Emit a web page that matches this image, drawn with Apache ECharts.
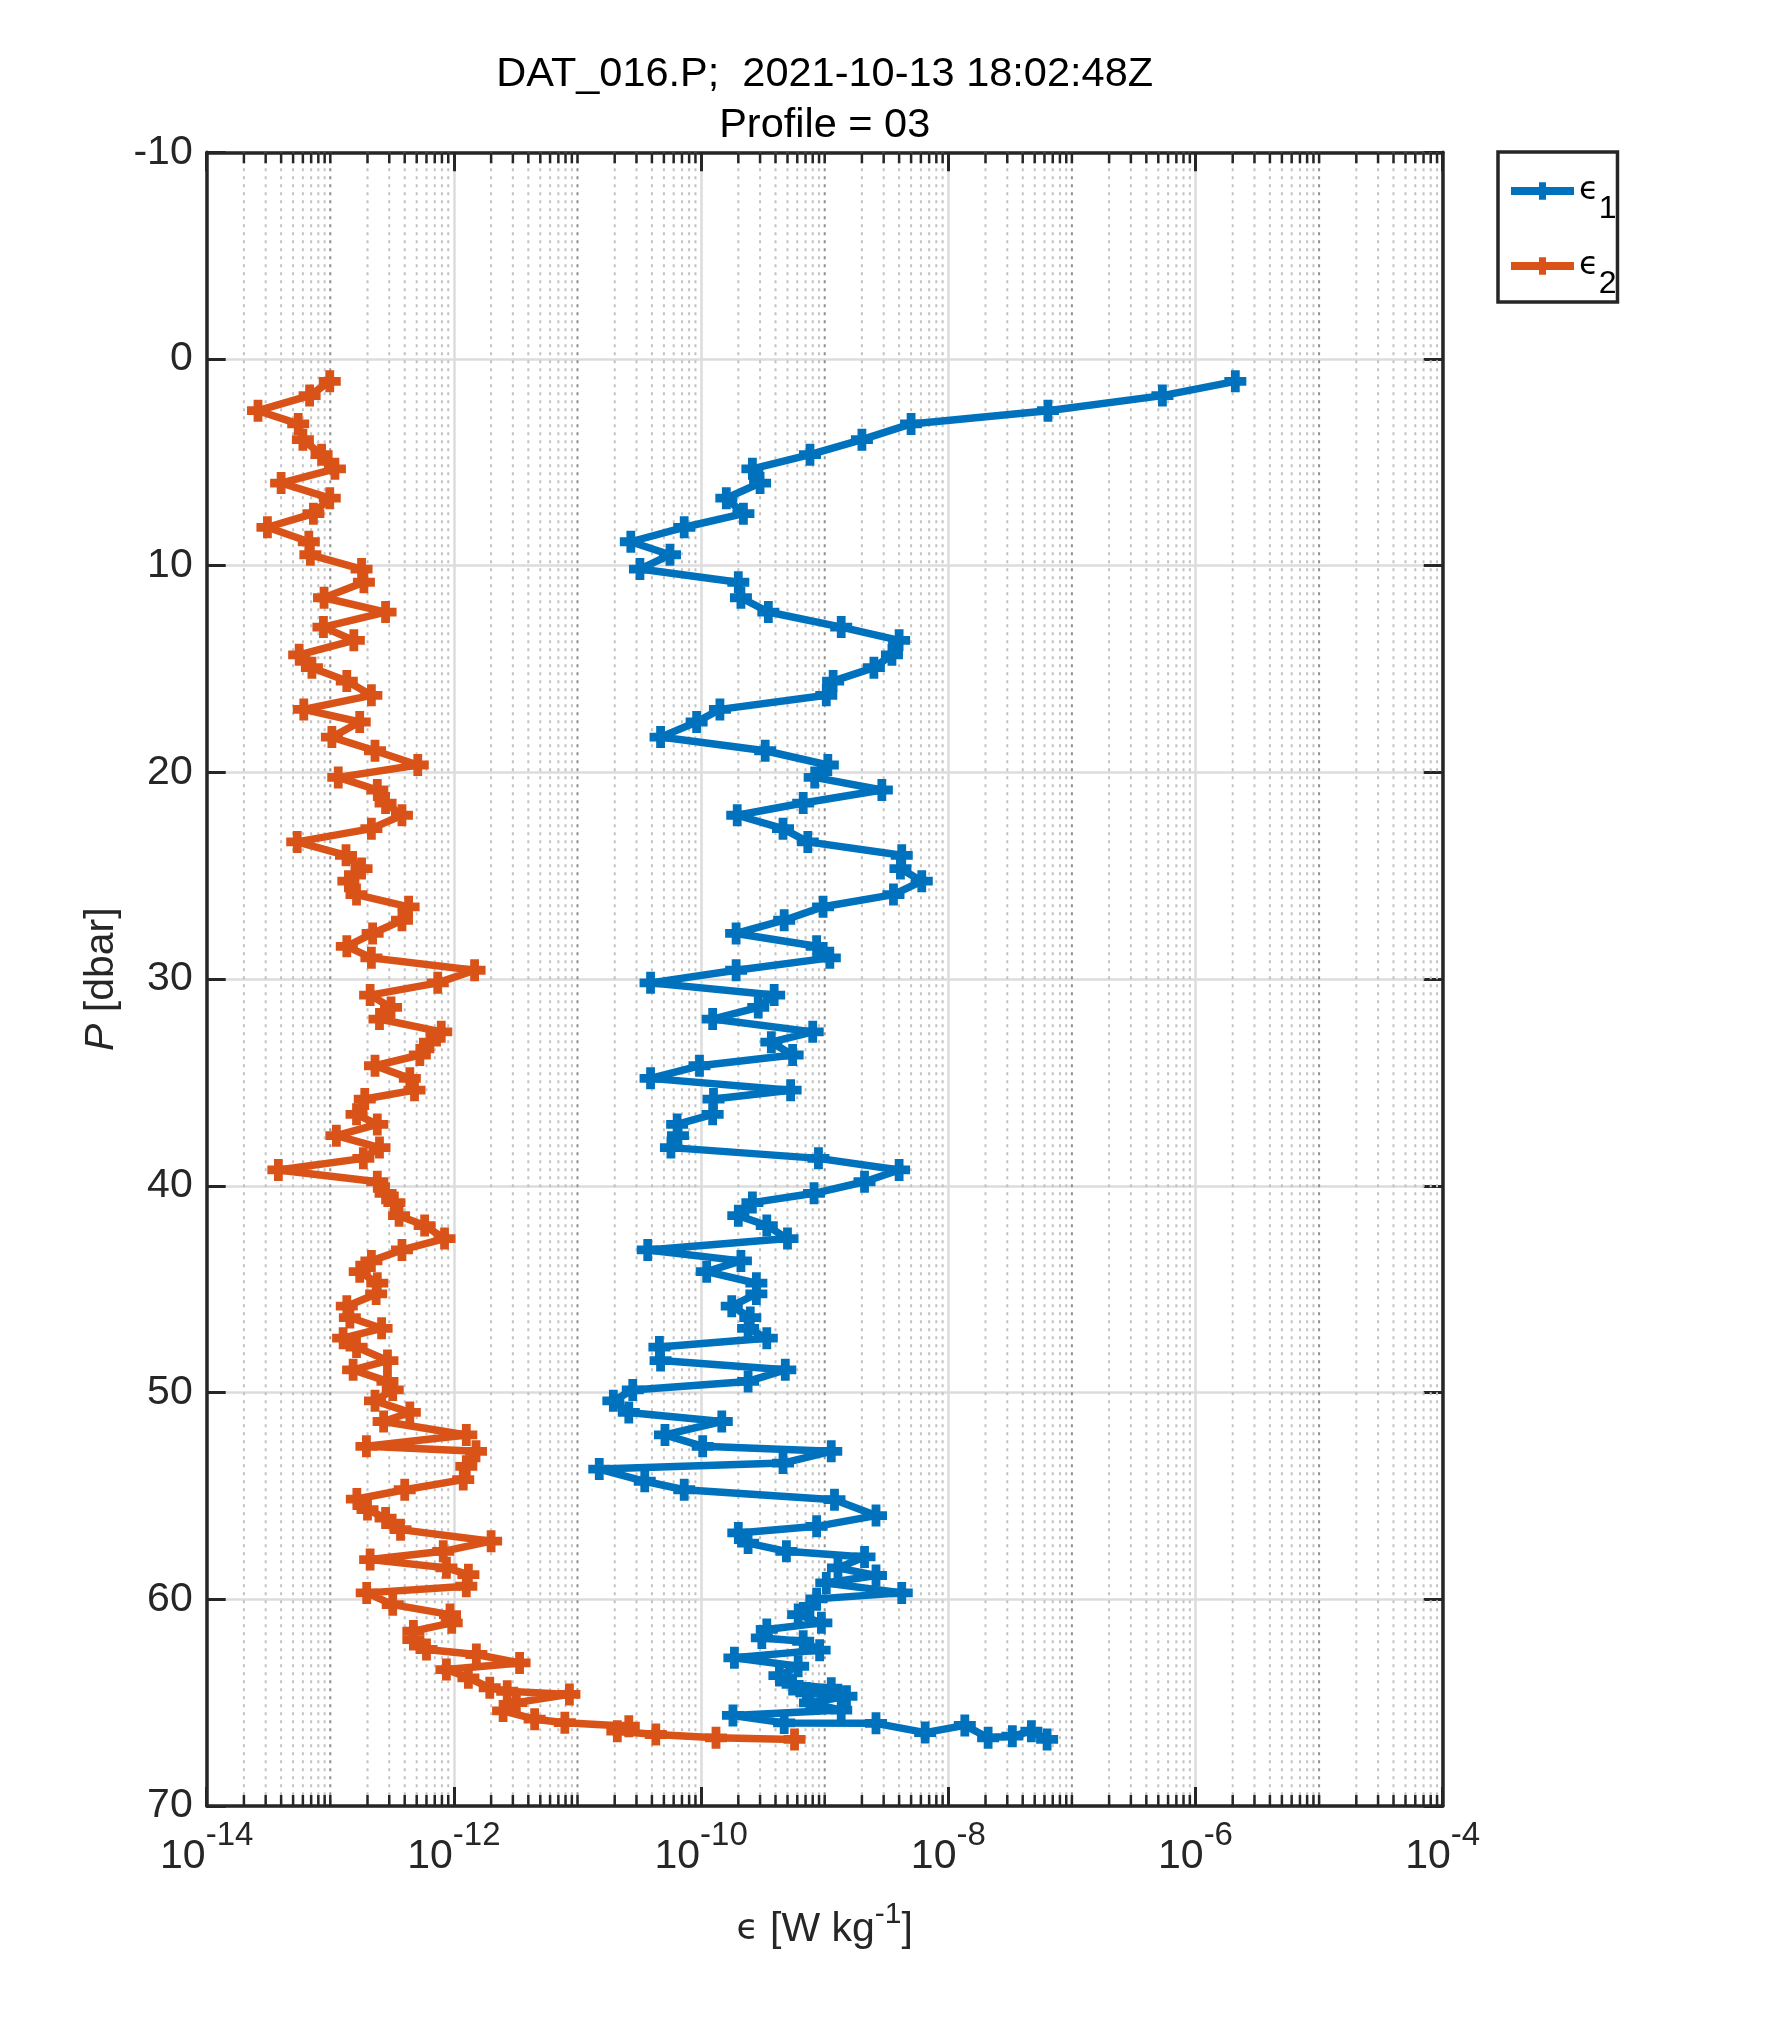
<!DOCTYPE html>
<html>
<head>
<meta charset="utf-8">
<script src="https://cdn.jsdelivr.net/npm/echarts@6/dist/echarts.min.js"></script>
<style>
html,body{margin:0;padding:0;background:#ffffff;}
#chart{width:1772px;height:2029px;}
</style>
</head>
<body>
<div id="chart"></div>
<script>
// ---------------- data ----------------
const titleLines = ['DAT_016.P;  2021-10-13 18:02:48Z', 'Profile = 03'];
const seriesNames = ['eps1', 'eps2'];
const legendSubscripts = ['1', '2'];
const pressureTicks = { min: -10, max: 70, step: 10 };
const epsDecadeLabels = [-14, -12, -10, -8, -6, -4];

// pressure [dbar] and dissipation [W/kg], shear probe 1
const pressure1 = [
  1.08,1.77,2.50,3.14,3.90,4.63,5.31,6.00,6.73,7.48,8.14,8.84,9.47,10.16,10.80,11.55,12.24,12.97,13.61,14.31,14.93,15.58,16.27,16.95,17.56,
  18.29,18.95,19.64,20.24,20.85,21.48,22.07,22.72,23.36,24.01,24.65,25.26,25.91,26.50,27.15,27.79,28.41,28.97,29.57,30.18,30.77,31.37,31.93,32.55,33.05,33.67,34.19,34.80,
  35.37,35.80,36.54,37.03,37.57,38.15,38.67,39.23,39.80,40.36,40.81,41.44,41.92,42.55,43.10,43.63,44.15,44.71,45.23,45.82,46.37,46.89,47.37,47.80,48.45,48.90,49.46,49.87,50.40,50.96,51.40,52.05,52.60,52.84,
  53.41,53.70,54.29,54.70,55.18,55.95,56.47,56.79,57.28,57.68,57.95,58.48,58.85,59.21,59.69,59.98,60.34,60.74,61.14,61.46,61.87,62.03,62.46,62.83,63.24,63.69,64.12,64.30,64.53,64.69,65.01,65.36,65.62,65.98,66.00,66.45,66.10,66.70,66.62,66.38,66.78
];
const eps1 = [
  2.1e-6,5.4e-7,6.4e-8,5.0e-9,2.0e-9,7.6e-10,2.6e-10,3.0e-10,1.6e-10,2.2e-10,7.3e-11,2.7e-11,5.6e-11,3.2e-11,2.0e-10,2.1e-10,3.5e-10,1.36e-9,4.0e-9,3.5e-9,2.5e-9,1.17e-9,1.03e-9,1.42e-10,9.2e-11,
  4.7e-11,3.3e-10,1.06e-9,8.3e-10,2.9e-9,6.7e-10,1.96e-10,4.6e-10,7.3e-10,4.2e-9,4.1e-9,6.1e-9,3.6e-9,9.7e-10,4.7e-10,1.92e-10,8.6e-10,1.10e-9,1.92e-10,3.9e-11,3.9e-10,2.9e-10,1.24e-10,8.0e-10,3.7e-10,5.5e-10,9.7e-11,3.9e-11,
  5.3e-10,1.26e-10,1.24e-10,6.4e-11,6.5e-11,5.7e-11,8.9e-10,4.0e-9,2.1e-9,8.2e-10,2.6e-10,2.0e-10,3.4e-10,5.0e-10,3.7e-11,2.1e-10,1.11e-10,2.8e-10,2.8e-10,1.77e-10,2.5e-10,2.4e-10,3.4e-10,4.6e-11,4.7e-11,4.8e-10,2.4e-10,2.8e-11,1.95e-11,2.6e-11,1.47e-10,5.1e-11,1.03e-10,1.13e-9,
  4.6e-10,1.5e-11,3.5e-11,7.3e-11,1.2e-9,2.6e-9,8.6e-10,2.0e-10,2.4e-10,4.9e-10,2.1e-9,1.28e-9,2.6e-9,1.03e-9,4.2e-9,8.6e-10,7.6e-10,6.1e-10,9.4e-10,3.4e-10,3.1e-10,6.7e-10,9.1e-10,1.86e-10,6.1e-10,4.3e-10,5.5e-10,1.13e-9,7.1e-10,1.5e-9,7.6e-10,1.36e-9,1.81e-10,4.7e-10,2.6e-9,6.5e-9,1.36e-8,2.1e-8,3.3e-8,4.7e-8,6.3e-8
];

// pressure [dbar] and dissipation [W/kg], shear probe 2
const pressure2 = [
  1.08,1.77,2.50,3.14,3.90,4.63,5.31,6.00,6.73,7.48,8.14,8.84,9.47,10.16,10.80,11.55,12.24,12.97,13.61,14.31,14.93,15.58,16.27,16.95,17.56,
  18.29,18.95,19.64,20.24,20.85,21.48,22.07,22.72,23.36,24.01,24.65,25.26,25.91,26.50,27.15,27.79,28.41,28.97,29.57,30.18,30.77,31.37,31.93,32.55,33.05,33.67,34.19,34.80,
  35.37,35.80,36.54,37.03,37.57,38.15,38.67,39.23,39.80,40.36,40.81,41.44,41.92,42.55,43.10,43.63,44.15,44.71,45.23,45.82,46.37,46.89,47.37,47.80,48.45,48.90,49.46,49.87,50.40,50.96,51.40,52.05,52.60,52.84,
  53.57,54.21,54.70,55.15,55.66,56.07,56.63,57.19,57.68,58.08,58.48,58.81,59.37,59.69,60.26,60.74,61.14,61.54,61.95,62.43,62.67,63.08,63.40,63.80,64.28,64.45,64.60,65.00,65.40,65.80,65.97,66.14,66.38,66.54,66.70,66.78
];
const eps2 = [
  9.9e-14,6.8e-14,2.6e-14,5.5e-14,6.0e-14,8.5e-14,1.09e-13,4.0e-14,9.9e-14,7.3e-14,3.1e-14,6.7e-14,6.9e-14,1.79e-13,1.87e-13,8.9e-14,2.8e-13,8.8e-14,1.55e-13,5.6e-14,7.1e-14,1.36e-13,2.15e-13,6.1e-14,1.73e-13,
  1.03e-13,2.3e-13,5.1e-13,1.16e-13,2.4e-13,2.8e-13,3.8e-13,2.15e-13,5.4e-14,1.34e-13,1.79e-13,1.40e-13,1.63e-13,4.3e-13,3.8e-13,2.2e-13,1.36e-13,2.15e-13,1.47e-12,7.4e-13,2.1e-13,3.1e-13,2.5e-13,7.9e-13,6.4e-13,5.3e-13,2.3e-13,4.4e-13,
  4.8e-13,1.9e-13,1.63e-13,2.4e-13,1.12e-13,2.5e-13,1.85e-13,3.8e-14,2.4e-13,2.8e-13,3.3e-13,3.6e-13,5.8e-13,8.4e-13,3.8e-13,2.15e-13,1.73e-13,2.4e-13,2.35e-13,1.36e-13,1.44e-13,2.6e-13,1.27e-13,1.63e-13,2.9e-13,1.53e-13,2.9e-13,3.2e-13,2.3e-13,4.4e-13,2.7e-13,1.26e-12,1.96e-13,1.51e-12,
  1.26e-12,1.19e-12,4.0e-13,1.64e-13,2.0e-13,2.8e-13,3.7e-13,2.0e-12,8.2e-13,2.1e-13,8.7e-13,1.31e-12,1.26e-12,1.97e-13,3.2e-13,9.3e-13,9.6e-13,4.7e-13,4.7e-13,6.0e-13,1.52e-12,3.4e-12,8.7e-13,1.31e-12,1.95e-12,2.7e-12,8.6e-12,3.2e-12,2.5e-12,4.5e-12,7.9e-12,2.6e-11,2.1e-11,4.3e-11,1.32e-10,5.7e-10
];

// minor log grid positions (2..9 x 10^n and the odd decades that carry no label)
const minorMantissas = [2, 3, 4, 5, 6, 7, 8, 9];
const minorDecades = [-14, -13, -12, -11, -10, -9, -8, -7, -6, -5];

// ---------------- styling ----------------
const FONT = '"Liberation Sans", Arial, Helvetica, sans-serif';
const AX = '#262626';
const BLUE = '#0072BD';
const RED = '#D95319';
const plusPath = 'path://M-0.4,-1L0.4,-1L0.4,-0.4L1,-0.4L1,0.4L0.4,0.4L0.4,1L-0.4,1L-0.4,0.4L-1,0.4L-1,-0.4L-0.4,-0.4Z';

const minorGrid = [];
minorDecades.forEach(function (d) {
  if (d % 2 !== 0) minorGrid.push([Math.pow(10, d), 1]);
  minorMantissas.forEach(function (m) { minorGrid.push([m * Math.pow(10, d), 0]); });
});

const chart = echarts.init(document.getElementById('chart'), null, { renderer: 'canvas', devicePixelRatio: 1 });

const pressureAxisBase = {
  type: 'value', inverse: true,
  min: pressureTicks.min, max: pressureTicks.max, interval: pressureTicks.step,
  axisLine: { show: true, onZero: false, lineStyle: { color: AX, width: 3.5 } },
  axisTick: { show: true, inside: true, length: 19, lineStyle: { color: AX, width: 3 } }
};
const epsAxisBase = {
  type: 'log', logBase: 10, min: 1e-14, max: 1e-4, interval: 2,
  axisLine: { show: true, onZero: false, lineStyle: { color: AX, width: 3.5 } },
  axisTick: { show: true, inside: true, length: 19, lineStyle: { color: AX, width: 3 } }
};

const option = {
  animation: false,
  backgroundColor: '#ffffff',
  title: {
    text: titleLines.join('\n'),
    left: 824.7, top: 49, textAlign: 'center', padding: 0,
    textStyle: { fontFamily: FONT, fontSize: 41.5, fontWeight: 'normal', color: '#000000', lineHeight: 51 }
  },
  legend: {
    data: seriesNames,
    orient: 'vertical',
    left: 1498, top: 152,
    padding: [5, 1, 2, 9],
    itemGap: 7,
    itemWidth: 63, itemHeight: 22,
    backgroundColor: '#ffffff',
    borderColor: AX, borderWidth: 3.5, borderRadius: 0,
    selectedMode: false,
    lineStyle: { width: 8 },
    formatter: function (name) {
      return '{e|\u03F5}{n|' + legendSubscripts[seriesNames.indexOf(name)] + '}';
    },
    textStyle: {
      fontFamily: FONT, color: '#000000', fontSize: 30, padding: [0, 0, 0, 0],
      rich: {
        e: { fontFamily: '"DejaVu Sans", ' + FONT, fontSize: 32, lineHeight: 24, color: '#000' },
        n: { fontFamily: FONT, fontSize: 32, lineHeight: 24, padding: [36, 0, 0, 0], color: '#000' }
      }
    }
  },
  grid: { left: 206.7, right: 329.3, top: 152.3, bottom: 223 },
  xAxis: [
    Object.assign({}, epsAxisBase, {
      position: 'bottom',
      axisLabel: {
        show: true, margin: 31, showMinLabel: true, showMaxLabel: true,
        formatter: function (v) {
          const e = Math.round(Math.log10(v));
          return epsDecadeLabels.indexOf(e) >= 0 ? '{b|10}{s|' + e + '}' : '';
        },
        rich: {
          b: { fontFamily: FONT, fontSize: 41, lineHeight: 40, color: AX },
          s: { fontFamily: FONT, fontSize: 33, lineHeight: 30, padding: [0, 0, 42, 0], color: AX }
        }
      },
      splitLine: { show: true, lineStyle: { color: '#dcdcdc', width: 2.5 } },
      name: '{e|\u03F5} [W kg{s|-1}]',
      nameLocation: 'middle', nameGap: 95,
      nameTextStyle: {
        fontFamily: FONT, fontSize: 41, color: AX,
        rich: {
          e: { fontFamily: '"DejaVu Sans", ' + FONT, fontSize: 36, lineHeight: 40, color: AX },
          s: { fontFamily: FONT, fontSize: 30, lineHeight: 30, padding: [0, 0, 30, 0], color: AX }
        }
      }
    }),
    Object.assign({}, epsAxisBase, {
      position: 'top',
      axisLabel: { show: false },
      splitLine: { show: false }
    })
  ],
  yAxis: [
    Object.assign({}, pressureAxisBase, {
      position: 'left',
      axisLabel: { show: true, fontFamily: FONT, fontSize: 41, color: AX, margin: 14 },
      splitLine: { show: true, lineStyle: { color: '#dcdcdc', width: 2.5 } },
      name: '{i|P} [dbar]',
      nameLocation: 'middle', nameGap: 76, nameRotate: 90,
      nameTextStyle: {
        fontFamily: FONT, fontSize: 41, color: AX,
        rich: { i: { fontFamily: FONT, fontSize: 41, fontStyle: 'italic', color: AX } }
      }
    }),
    Object.assign({}, pressureAxisBase, {
      position: 'right',
      axisLabel: { show: false },
      splitLine: { show: false }
    })
  ],
  series: [
    {
      name: 'minorGrid', type: 'custom', silent: true, z: 1,
      xAxisIndex: 0, yAxisIndex: 0,
      data: minorGrid,
      encode: { x: 0 },
      renderItem: function (params, api) {
        const v = api.value(0);
        const odd = api.value(1) === 1;
        const top = api.coord([v, pressureTicks.min]);
        const bot = api.coord([v, pressureTicks.max]);
        return {
          type: 'group',
          children: [
            { type: 'line', shape: { x1: top[0], y1: top[1], x2: bot[0], y2: bot[1] },
              style: { stroke: odd ? '#8f8f8f' : '#c2c2c2', lineWidth: 2, lineDash: [3, 5] } },
            { type: 'line', shape: { x1: bot[0], y1: bot[1], x2: bot[0], y2: bot[1] - 11 },
              style: { stroke: AX, lineWidth: 2.5 } },
            { type: 'line', shape: { x1: top[0], y1: top[1], x2: top[0], y2: top[1] + 11 },
              style: { stroke: AX, lineWidth: 2.5 } }
          ]
        };
      }
    },
    {
      name: seriesNames[0], type: 'line', z: 3,
      xAxisIndex: 0, yAxisIndex: 0,
      data: pressure1.map(function (p, i) { return [eps1[i], p]; }),
      symbol: plusPath, symbolSize: 22, showAllSymbol: true,
      lineStyle: { color: BLUE, width: 7.5 },
      itemStyle: { color: BLUE },
      emphasis: { disabled: true }
    },
    {
      name: seriesNames[1], type: 'line', z: 4,
      xAxisIndex: 0, yAxisIndex: 0,
      data: pressure2.map(function (p, i) { return [eps2[i], p]; }),
      symbol: plusPath, symbolSize: 22, showAllSymbol: true,
      lineStyle: { color: RED, width: 7.5 },
      itemStyle: { color: RED },
      emphasis: { disabled: true }
    }
  ]
};
chart.setOption(option);
</script>
</body>
</html>
